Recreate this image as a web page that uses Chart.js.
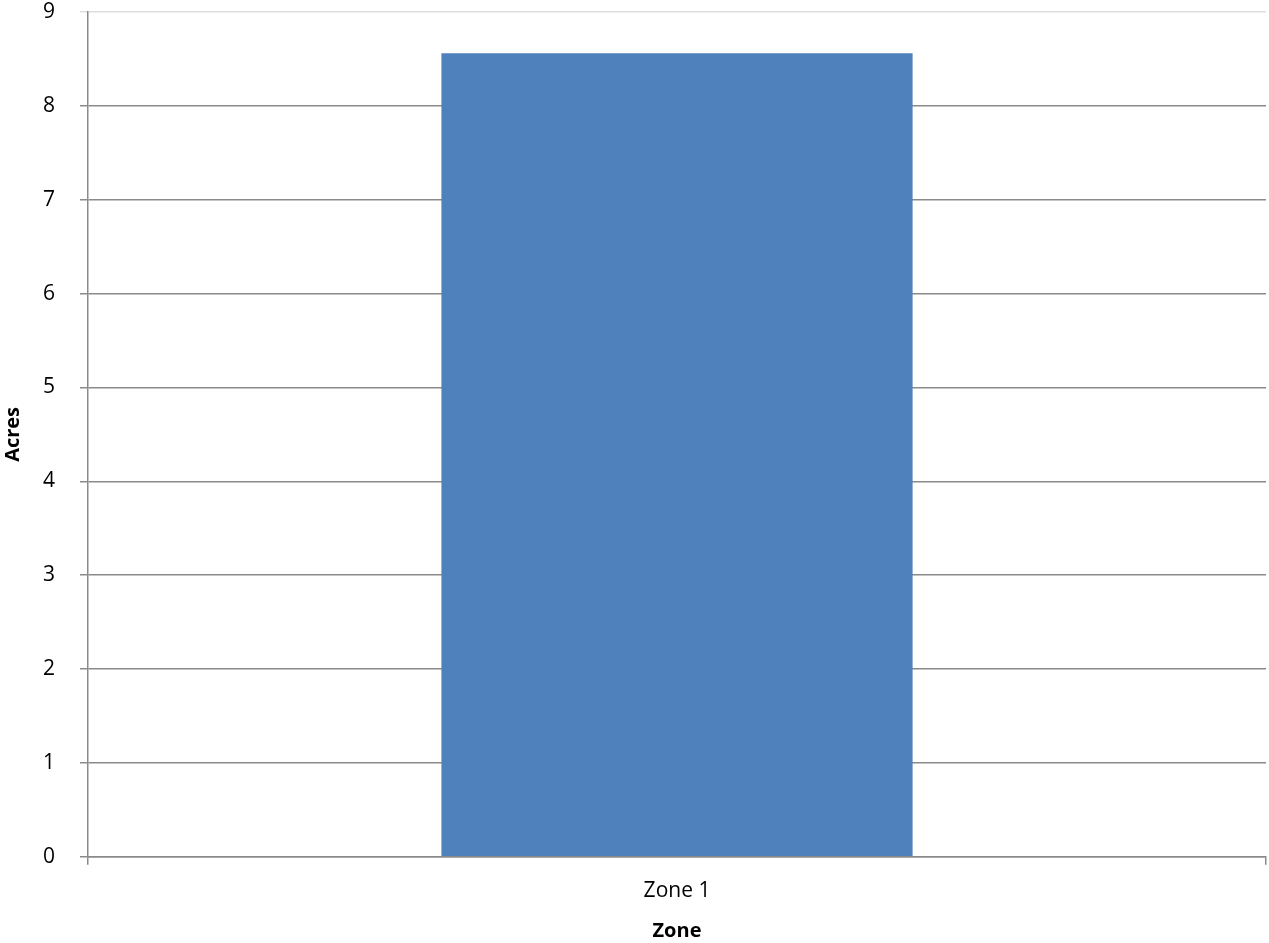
<!DOCTYPE html>
<html>
<head>
<meta charset="utf-8">
<script src="https://cdn.jsdelivr.net/npm/chart.js@4/dist/chart.umd.min.js"></script>
<style>
  html, body { margin: 0; padding: 0; background: #fff; }
  #wrap { width: 1269px; height: 943px; }
</style>
</head>
<body>
<div id="wrap"><canvas id="acresChart"></canvas></div>
<script>
const zones = ['Zone 1'];
const acres = [8.56];
const yTicks = [0, 1, 2, 3, 4, 5, 6, 7, 8, 9];

const gridGray = '#8a8a8a';
const fontFamily = "'Open Sans', 'Liberation Sans', sans-serif";

const ctx = document.getElementById('acresChart').getContext('2d');
const chart = new Chart(ctx, {
    type: 'bar',
    data: {
        labels: zones,
        datasets: [{
            label: 'Acres',
            data: acres,
            backgroundColor: '#4f81bd',
            borderWidth: 0,
            barPercentage: 0.4,
            categoryPercentage: 1.0
        }]
    },
    options: {
        responsive: true,
        maintainAspectRatio: false,
        animation: false,
        layout: {
            padding: { top: 0, right: 3, left: 1, bottom: 0 }
        },
        plugins: {
            legend: { display: false },
            tooltip: { enabled: false }
        },
        scales: {
            x: {
                offset: true,
                grid: {
                    offset: true,
                    drawOnChartArea: false,
                    color: gridGray,
                    lineWidth: 1.5,
                    tickLength: 8
                },
                border: { color: gridGray, width: 1.5 },
                ticks: {
                    color: '#000',
                    font: { family: fontFamily, size: 21 },
                    padding: 14
                },
                title: {
                    display: true,
                    text: 'Zone',
                    color: '#000',
                    font: { family: fontFamily, size: 20, weight: 'bold' },
                    padding: { top: 1, bottom: 0 }
                }
            },
            y: {
                min: 0,
                max: 9,
                afterBuildTicks: (axis) => {
                    axis.ticks = yTicks.map(v => ({ value: v }));
                },
                // keep the top gridline close to the canvas edge
                afterFit: (axis) => {
                    axis.paddingTop = 12;
                },
                grid: {
                    color: (c) => c.tick && c.tick.value === 9 ? '#dedede' : gridGray,
                    lineWidth: 1.5,
                    tickLength: 8
                },
                border: { color: gridGray, width: 1.5 },
                ticks: {
                    color: '#000',
                    font: { family: fontFamily, size: 21 },
                    padding: 25
                },
                title: {
                    display: true,
                    text: 'Acres',
                    color: '#000',
                    font: { family: fontFamily, size: 20, weight: 'bold' },
                    padding: { top: 0, bottom: -7 }
                }
            }
        }
    }
});
</script>
</body>
</html>
